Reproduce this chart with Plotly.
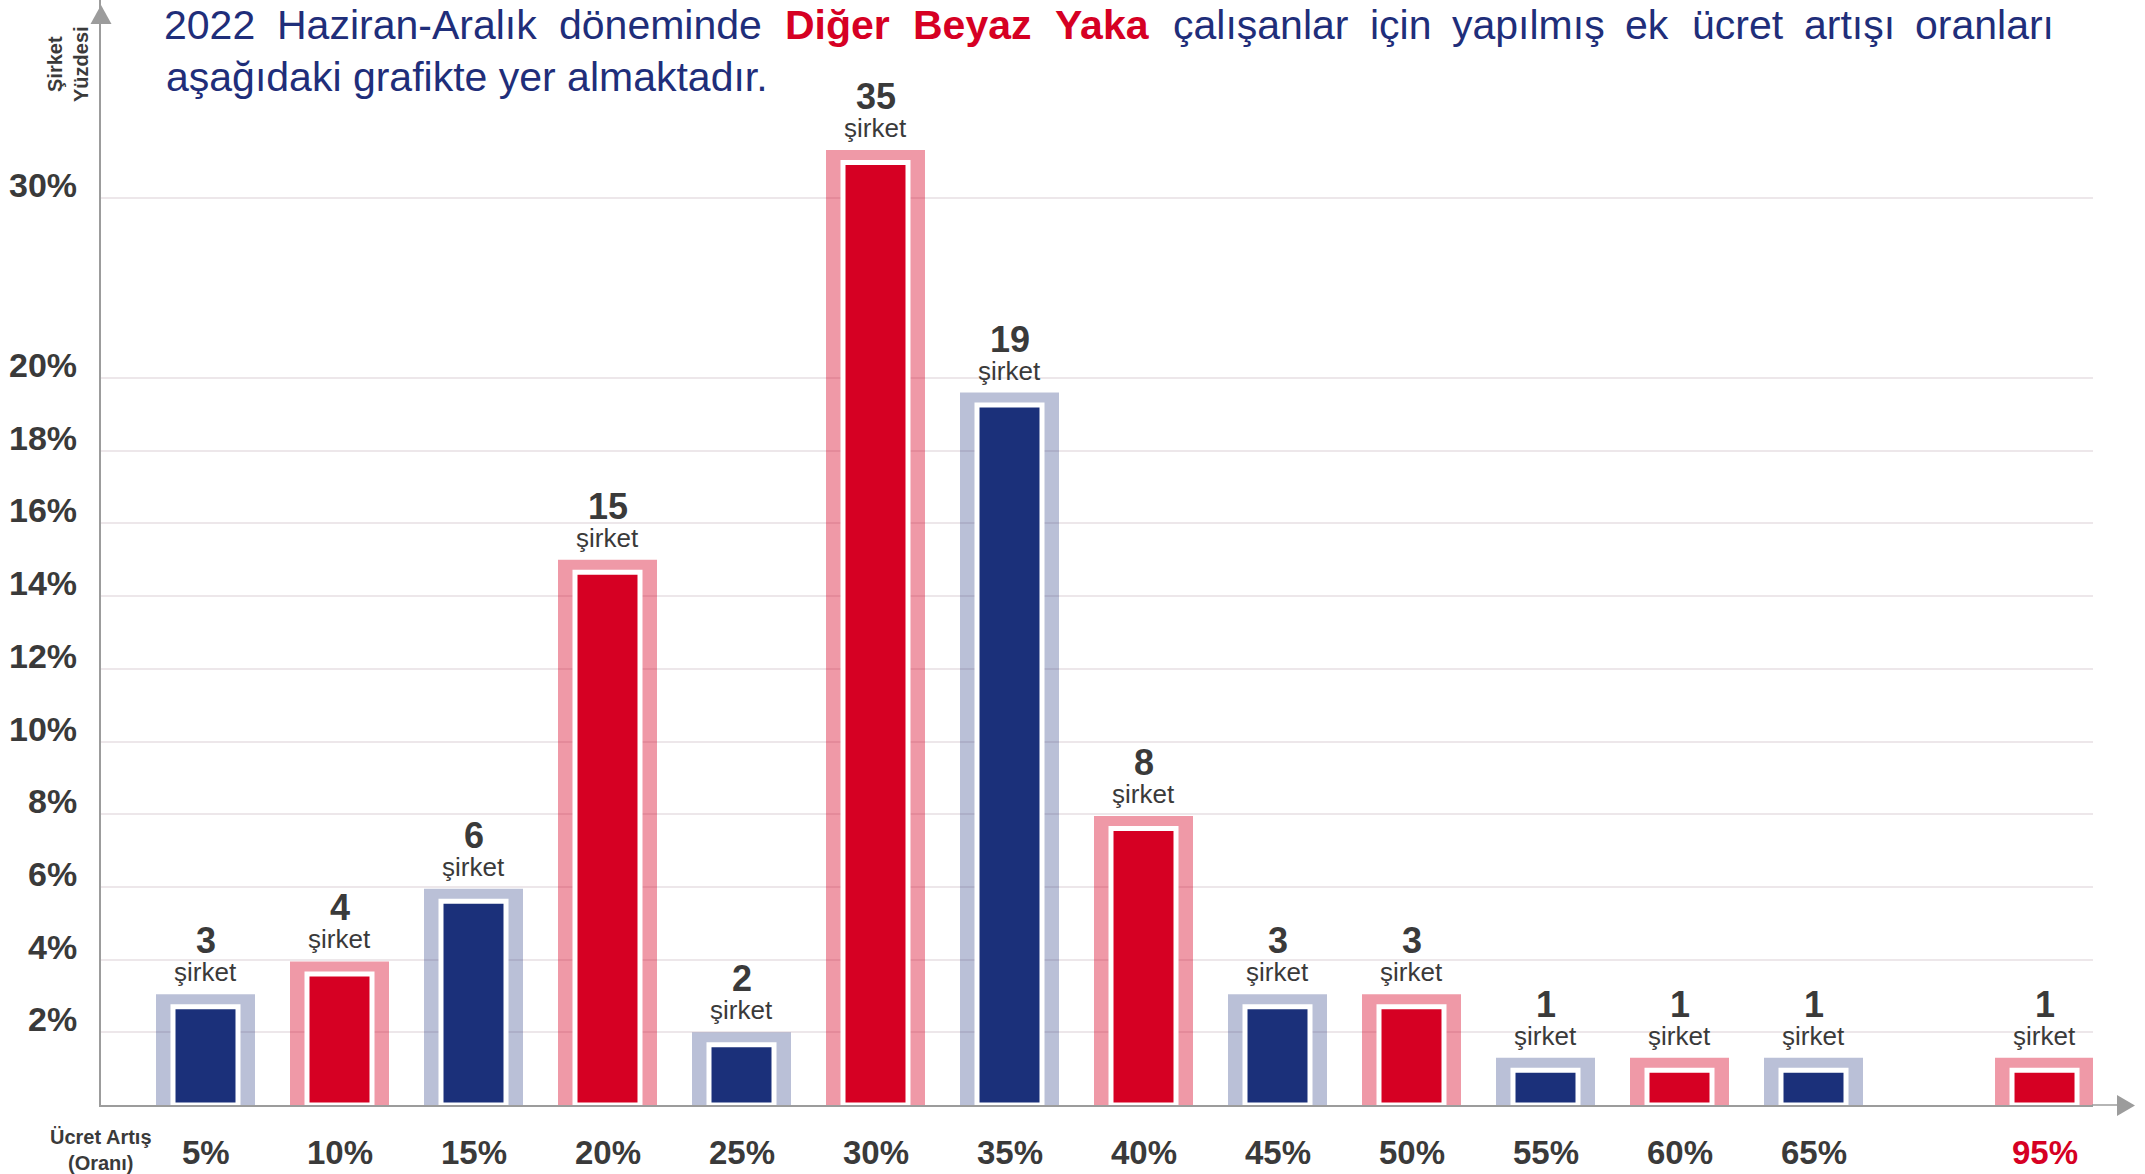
import plotly.graph_objects as go

# ------------------ DATA ------------------
rate_labels = ["5%", "10%", "15%", "20%", "25%", "30%", "35%", "40%",
               "45%", "50%", "55%", "60%", "65%", "95%"]
companies = [3, 4, 6, 15, 2, 35, 19, 8, 3, 3, 1, 1, 1, 1]
# bar height as drawn, in "Şirket Yüzdesi" percent (broken scale above 20%)
bar_pct = [3.05, 3.95, 5.95, 15.0, 2.0, 32.7, 19.6, 7.95,
           3.05, 3.05, 1.3, 1.3, 1.3, 1.3]
y_ticks = [2, 4, 6, 8, 10, 12, 14, 16, 18, 20, 30]

title_words = ["2022", "Haziran-Aralık", "döneminde", "Diğer", "Beyaz", "Yaka",
               "çalışanlar", "için", "yapılmış", "ek", "ücret", "artışı", "oranları"]
title_red = ["Diğer", "Beyaz", "Yaka"]
title_line2 = "aşağıdaki grafikte yer almaktadır."

# ------------------ LAYOUT CONSTANTS ------------------
# page pixels; the body margin is removed in post_script so page == figure
W, H = 2145, 1174
AXIS_X, AXIS_Y, GRID_END = 101, 1105, 2093
L, T = AXIS_X, 0
R = W - GRID_END
B = H - AXIS_Y
PW, PH = W - L - R, H - T - B
PX_PER_UNIT = 36.35          # pixels per 1% below the break
TOP_SQUEEZE = 0.494          # 20%..30% band is drawn about half as tall
SLOT_PX, FIRST_PX = 134, 205.5
GAP_95 = 1.724               # 95% sits a bit further right than a normal slot
TITLE_LEFT, TITLE_RIGHT, TITLE_SIZE = 164, 2053, 41

NAVY, RED = "#1b307a", "#d60023"
NAVY_FRAME, RED_FRAME = "rgba(27,48,122,0.30)", "rgba(214,0,35,0.40)"
TXT = "#3a3a3a"
TITLE = "#1f2e7a"
AX = "#9c9c9c"
FONT = "Liberation Sans, Arial, sans-serif"

# Arial / Liberation Sans advance widths (em/1000) for justifying the headline
REG_W = {"2": 556, "0": 556, "H": 722, "a": 556, "z": 500, "i": 222, "r": 333, "n": 556,
         "-": 333, "A": 667, "l": 222, "ı": 222, "k": 500, "d": 556, "ö": 556, "e": 556,
         "m": 833, "ç": 500, "ş": 500, "p": 556, "y": 500, "ü": 556, "c": 500, "t": 278,
         "o": 556}
BOLD_W = {"D": 722, "i": 278, "ğ": 611, "e": 556, "r": 389, "B": 722, "y": 556,
          "a": 556, "z": 500, "Y": 667, "k": 556}


def to_axis(p):
    return p if p <= 20 else 20 + (p - 20) * TOP_SQUEEZE


def px_x(px):
    return (px - L) / PW


def px_y(py):
    return 1 - (py - T) / PH


def word_width(w, bold):
    table = BOLD_W if bold else REG_W
    return sum(table.get(ch, 556) for ch in w) / 1000 * TITLE_SIZE


x_pos = [i if i < 13 else 12 + GAP_95 for i in range(len(rate_labels))]
outer = [to_axis(v) for v in bar_pct]
inner = [o - 12.5 / PX_PER_UNIT for o in outer]
fills = [NAVY if i % 2 == 0 else RED for i in range(len(rate_labels))]
frames = [NAVY_FRAME if i % 2 == 0 else RED_FRAME for i in range(len(rate_labels))]

fig = go.Figure()

# light outer frame
fig.add_trace(go.Bar(
    x=x_pos, y=outer, width=99 / SLOT_PX,
    marker=dict(color=frames, line=dict(width=0)),
    hoverinfo="skip"
))
# solid inner bar with a white rim
fig.add_trace(go.Bar(
    x=x_pos, y=inner, width=65 / SLOT_PX,
    marker=dict(color=fills, line=dict(color="white", width=5)),
    customdata=companies,
    hovertemplate="%{customdata} şirket<extra></extra>"
))

ann = []

# count labels over bars
for xp, top, n in zip(x_pos, outer, companies):
    ann.append(dict(x=xp, y=top, xref="x", yref="y", text=str(n), showarrow=False,
                    xanchor="center", yanchor="bottom", yshift=31,
                    font=dict(family=FONT, size=36, color=TXT, weight="bold")))
    ann.append(dict(x=xp, y=top, xref="x", yref="y", text="şirket", showarrow=False,
                    xanchor="center", yanchor="bottom", yshift=5,
                    font=dict(family=FONT, size=26, color=TXT)))

# x labels
for xp, lab in zip(x_pos, rate_labels):
    ann.append(dict(x=xp, y=px_y(1152), xref="x", yref="paper", text=lab, showarrow=False,
                    xanchor="center", yanchor="middle",
                    font=dict(family=FONT, size=33, weight="bold",
                              color=RED if lab == "95%" else TXT)))

# y labels sit on their grid lines
for v in y_ticks:
    ann.append(dict(x=0, y=to_axis(v), xref="paper", yref="y", text=f"{v}%", showarrow=False,
                    xanchor="right", yanchor="bottom", xshift=-22, yshift=-8,
                    font=dict(family=FONT, size=34, weight="bold", color=TXT)))

# axis captions
ann.append(dict(x=px_x(68), y=px_y(64), xref="paper", yref="paper",
                text="Şirket<br>Yüzdesi", textangle=-90, showarrow=False,
                xanchor="center", yanchor="middle",
                font=dict(family=FONT, size=20, weight="bold", color=TXT)))
ann.append(dict(x=px_x(101), y=px_y(1150), xref="paper", yref="paper",
                text="Ücret Artış<br>(Oranı)", showarrow=False,
                xanchor="center", yanchor="middle",
                font=dict(family=FONT, size=20, weight="bold", color=TXT)))

# justified headline, word by word
widths = [word_width(w, w in title_red) for w in title_words]
gap = (TITLE_RIGHT - TITLE_LEFT - sum(widths)) / (len(title_words) - 1)
left = TITLE_LEFT
for w, wd in zip(title_words, widths):
    red = w in title_red
    ann.append(dict(x=px_x(left + wd / 2), y=px_y(0), xref="paper", yref="paper", text=w,
                    showarrow=False, xanchor="center", yanchor="top",
                    font=dict(family=FONT, size=TITLE_SIZE, color=RED if red else TITLE,
                              weight="bold" if red else "normal")))
    left += wd + gap
ann.append(dict(x=px_x(TITLE_LEFT), y=px_y(77), xref="paper", yref="paper", text=title_line2,
                showarrow=False, xanchor="left", yanchor="middle",
                font=dict(family=FONT, size=TITLE_SIZE, color=TITLE)))

# axis arrows
shapes = [
    dict(type="line", xref="paper", yref="paper", x0=px_x(GRID_END - 1), x1=px_x(2120),
         y0=px_y(AXIS_Y), y1=px_y(AXIS_Y), line=dict(color=AX, width=1.5)),
    dict(type="path", xref="paper", yref="paper", fillcolor=AX, line=dict(width=0),
         path=f"M {px_x(2135)} {px_y(1105.5)} L {px_x(2117)} {px_y(1095)} "
              f"L {px_x(2117)} {px_y(1116)} Z"),
    dict(type="path", xref="paper", yref="paper", fillcolor=AX, line=dict(width=0),
         path=f"M {px_x(AXIS_X)} {px_y(5)} L {px_x(90.5)} {px_y(24)} "
              f"L {px_x(111.5)} {px_y(24)} Z"),
]

fig.update_layout(
    width=W, height=H,
    margin=dict(l=L, r=R, t=T, b=B, pad=0),
    barmode="overlay",
    showlegend=False,
    paper_bgcolor="white",
    plot_bgcolor="white",
    annotations=ann,
    shapes=shapes,
    xaxis=dict(range=[(AXIS_X - FIRST_PX) / SLOT_PX, (GRID_END - FIRST_PX) / SLOT_PX],
               showgrid=False, zeroline=False, showticklabels=False, ticks="",
               showline=True, linecolor=AX, linewidth=1.5, layer="below traces",
               automargin=False, fixedrange=True),
    yaxis=dict(range=[0, PH / PX_PER_UNIT], tickvals=[to_axis(v) for v in y_ticks],
               showgrid=True, gridcolor="#ede7ea", gridwidth=2,
               zeroline=False, showticklabels=False, ticks="",
               showline=True, linecolor=AX, linewidth=1.5, layer="below traces",
               automargin=False, fixedrange=True),
)

# drop the browser's default 8px body margin so the figure fills the window exactly
fig.write_html("out.html", config={"displayModeBar": False},
               post_script="document.body.style.margin='0';")
